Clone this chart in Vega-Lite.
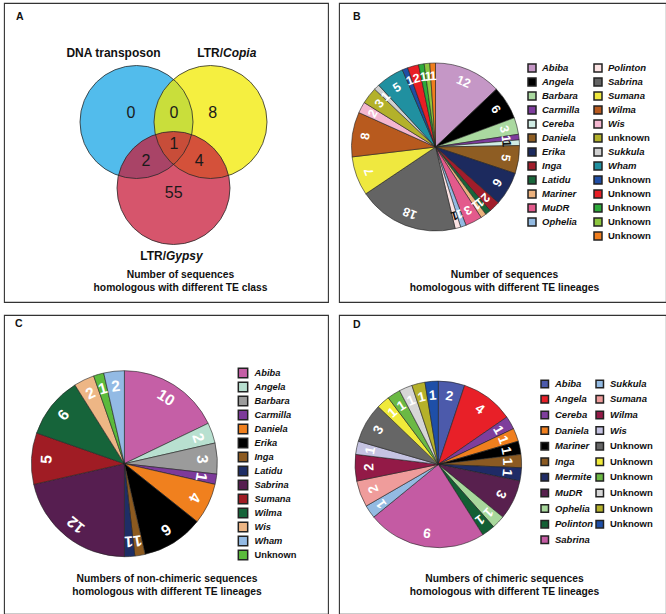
{
  "$schema": "https://vega.github.io/schema/vega-lite/v6.json",
  "background": "white",
  "padding": {"left": 3, "top": 2, "right": 0, "bottom": 0},
  "columns": 2,
  "spacing": {"row": 11, "column": 9},
  "align": "each",
  "datasets": {
    "venn": [
      {"region": "DNA transposon only", "n": 0},
      {"region": "DNA transposon & LTR/Copia", "n": 0},
      {"region": "LTR/Copia only", "n": 8},
      {"region": "all three", "n": 1},
      {"region": "DNA transposon & LTR/Gypsy", "n": 2},
      {"region": "LTR/Copia & LTR/Gypsy", "n": 4},
      {"region": "LTR/Gypsy only", "n": 55}
    ],
    "sets": [
      {"set": "DNA transposon", "cls": "DNA transposon", "sub": ""},
      {"set": "LTR/Copia", "cls": "LTR/", "sub": "Copia"},
      {"set": "LTR/Gypsy", "cls": "LTR/", "sub": "Gypsy"}
    ],
    "panels": [
      {"panel": "A", "caption": "Number of sequences\nhomologous with different TE class"},
      {"panel": "B", "caption": "Number of sequences\nhomologous with different TE lineages"},
      {"panel": "C", "caption": "Numbers of non-chimeric sequences\nhomologous with different TE lineages"},
      {"panel": "D", "caption": "Numbers of chimeric sequences\nhomologous with different TE lineages"}
    ],
    "pieB": [
      {"i": 1, "key": "Abiba", "n": 12}, {"i": 2, "key": "Angela", "n": 6}, {"i": 3, "key": "Barbara", "n": 3},
      {"i": 4, "key": "Carmilla", "n": 1}, {"i": 5, "key": "Cereba", "n": 1}, {"i": 6, "key": "Daniela", "n": 5},
      {"i": 7, "key": "Erika", "n": 6}, {"i": 8, "key": "Inga", "n": 2}, {"i": 9, "key": "Latidu", "n": 1},
      {"i": 10, "key": "Mariner", "n": 1}, {"i": 11, "key": "MuDR", "n": 3}, {"i": 12, "key": "Ophelia", "n": 1},
      {"i": 13, "key": "Polinton", "n": 1}, {"i": 14, "key": "Sabrina", "n": 18}, {"i": 15, "key": "Sumana", "n": 7},
      {"i": 16, "key": "Wilma", "n": 8}, {"i": 17, "key": "Wis", "n": 2}, {"i": 18, "key": "unknown", "n": 3},
      {"i": 19, "key": "Sukkula", "n": 1}, {"i": 20, "key": "Wham", "n": 5}, {"i": 21, "key": "Unknown#1", "n": 1},
      {"i": 22, "key": "Unknown#2", "n": 2}, {"i": 23, "key": "Unknown#3", "n": 1}, {"i": 24, "key": "Unknown#4", "n": 1},
      {"i": 25, "key": "Unknown#5", "n": 1}
    ],
    "pieC": [
      {"i": 1, "key": "Abiba", "n": 10}, {"i": 2, "key": "Angela", "n": 2}, {"i": 3, "key": "Barbara", "n": 3},
      {"i": 4, "key": "Carmilla", "n": 1}, {"i": 5, "key": "Daniela", "n": 4}, {"i": 6, "key": "Erika", "n": 6},
      {"i": 7, "key": "Inga", "n": 1}, {"i": 8, "key": "Latidu", "n": 1}, {"i": 9, "key": "Sabrina", "n": 12},
      {"i": 10, "key": "Sumana", "n": 5}, {"i": 11, "key": "Wilma", "n": 6}, {"i": 12, "key": "Wis", "n": 2},
      {"i": 13, "key": "Unknown", "n": 1}, {"i": 14, "key": "Wham", "n": 2}
    ],
    "pieD": [
      {"i": 1, "key": "Abiba", "n": 2}, {"i": 2, "key": "Angela", "n": 4}, {"i": 3, "key": "Cereba", "n": 1},
      {"i": 4, "key": "Daniela", "n": 1}, {"i": 5, "key": "Mariner", "n": 1}, {"i": 6, "key": "Inga", "n": 1},
      {"i": 7, "key": "Mermite", "n": 1}, {"i": 8, "key": "MuDR", "n": 3}, {"i": 9, "key": "Ophelia", "n": 1},
      {"i": 10, "key": "Polinton", "n": 1}, {"i": 11, "key": "Sabrina", "n": 9}, {"i": 12, "key": "Sukkula", "n": 1},
      {"i": 13, "key": "Sumana", "n": 2}, {"i": 14, "key": "Wilma", "n": 2}, {"i": 15, "key": "Wis", "n": 1},
      {"i": 16, "key": "Unknown#1", "n": 3}, {"i": 17, "key": "Unknown#2", "n": 1}, {"i": 18, "key": "Unknown#3", "n": 1},
      {"i": 19, "key": "Unknown#4", "n": 1}, {"i": 20, "key": "Unknown#5", "n": 1}, {"i": 21, "key": "Unknown#6", "n": 1}
    ]
  },
  "concat": [
    {
      "width": 324,
      "height": 299,
      "layer": [
        {"data": {"name": "sets"}, "transform": [{"filter": "datum.set == 'DNA transposon'"}],
         "mark": {"type": "circle", "size": 12769, "color": "#52BCEC", "opacity": 1, "strokeWidth": 0},
         "encoding": {
           "x": {"datum": 132.5, "type": "quantitative", "scale": {"domain": [0, 324], "nice": false, "zero": false}, "axis": null},
           "y": {"datum": 119, "type": "quantitative", "scale": {"domain": [0, 299], "nice": false, "zero": false, "reverse": true}, "axis": null}}},
        {"data": {"name": "sets"}, "transform": [{"filter": "datum.set == 'LTR/Copia'"}],
         "mark": {"type": "circle", "size": 12769, "color": "#F1E900", "opacity": 0.75, "strokeWidth": 0},
         "encoding": {
           "x": {"datum": 206.5, "type": "quantitative", "scale": {"domain": [0, 324], "nice": false, "zero": false}, "axis": null},
           "y": {"datum": 119, "type": "quantitative", "scale": {"domain": [0, 299], "nice": false, "zero": false, "reverse": true}, "axis": null}}},
        {"data": {"name": "sets"}, "transform": [{"filter": "datum.set == 'LTR/Gypsy'"}],
         "mark": {"type": "circle", "size": 12769, "color": "#C81A38", "opacity": 0.74, "strokeWidth": 0},
         "encoding": {
           "x": {"datum": 169.5, "type": "quantitative", "scale": {"domain": [0, 324], "nice": false, "zero": false}, "axis": null},
           "y": {"datum": 185, "type": "quantitative", "scale": {"domain": [0, 299], "nice": false, "zero": false, "reverse": true}, "axis": null}}},
        {"data": {"name": "sets"}, "transform": [{"filter": "datum.set == 'DNA transposon'"}],
         "mark": {"type": "point", "shape": "circle", "filled": false, "size": 12769, "color": "#2a2a2a", "stroke": "#2a2a2a", "strokeWidth": 0.8, "opacity": 1},
         "encoding": {
           "x": {"datum": 132.5, "type": "quantitative", "scale": {"domain": [0, 324], "nice": false, "zero": false}, "axis": null},
           "y": {"datum": 119, "type": "quantitative", "scale": {"domain": [0, 299], "nice": false, "zero": false, "reverse": true}, "axis": null}}},
        {"data": {"name": "sets"}, "transform": [{"filter": "datum.set == 'LTR/Copia'"}],
         "mark": {"type": "point", "shape": "circle", "filled": false, "size": 12769, "color": "#2a2a2a", "stroke": "#2a2a2a", "strokeWidth": 0.8, "opacity": 1},
         "encoding": {
           "x": {"datum": 206.5, "type": "quantitative", "scale": {"domain": [0, 324], "nice": false, "zero": false}, "axis": null},
           "y": {"datum": 119, "type": "quantitative", "scale": {"domain": [0, 299], "nice": false, "zero": false, "reverse": true}, "axis": null}}},
        {"data": {"name": "sets"}, "transform": [{"filter": "datum.set == 'LTR/Gypsy'"}],
         "mark": {"type": "point", "shape": "circle", "filled": false, "size": 12769, "color": "#2a2a2a", "stroke": "#2a2a2a", "strokeWidth": 0.8, "opacity": 1},
         "encoding": {
           "x": {"datum": 169.5, "type": "quantitative", "scale": {"domain": [0, 324], "nice": false, "zero": false}, "axis": null},
           "y": {"datum": 185, "type": "quantitative", "scale": {"domain": [0, 299], "nice": false, "zero": false, "reverse": true}, "axis": null}}},
        {"data": {"name": "sets"}, "transform": [{"filter": "datum.set == 'DNA transposon'"}],
         "mark": {"type": "text", "fontSize": 12, "fontWeight": "bold", "align": "center", "baseline": "middle", "color": "#111"},
         "encoding": {"text": {"field": "cls", "type": "nominal"},
           "x": {"datum": 109.5, "type": "quantitative", "scale": {"domain": [0, 324], "nice": false, "zero": false}, "axis": null},
           "y": {"datum": 50.3, "type": "quantitative", "scale": {"domain": [0, 299], "nice": false, "zero": false, "reverse": true}, "axis": null}}},
        {"data": {"name": "sets"}, "transform": [{"filter": "datum.set == 'LTR/Copia'"}],
         "mark": {"type": "text", "fontSize": 12, "fontWeight": "bold", "align": "right", "baseline": "middle", "color": "#111"},
         "encoding": {"text": {"field": "cls", "type": "nominal"},
           "x": {"datum": 219, "type": "quantitative", "scale": {"domain": [0, 324], "nice": false, "zero": false}, "axis": null},
           "y": {"datum": 50.3, "type": "quantitative", "scale": {"domain": [0, 299], "nice": false, "zero": false, "reverse": true}, "axis": null}}},
        {"data": {"name": "sets"}, "transform": [{"filter": "datum.set == 'LTR/Copia'"}],
         "mark": {"type": "text", "fontSize": 12, "fontWeight": "bold", "fontStyle": "italic", "align": "left", "baseline": "middle", "color": "#111"},
         "encoding": {"text": {"field": "sub", "type": "nominal"},
           "x": {"datum": 219, "type": "quantitative", "scale": {"domain": [0, 324], "nice": false, "zero": false}, "axis": null},
           "y": {"datum": 50.3, "type": "quantitative", "scale": {"domain": [0, 299], "nice": false, "zero": false, "reverse": true}, "axis": null}}},
        {"data": {"name": "sets"}, "transform": [{"filter": "datum.set == 'LTR/Gypsy'"}],
         "mark": {"type": "text", "fontSize": 12, "fontWeight": "bold", "align": "right", "baseline": "middle", "color": "#111"},
         "encoding": {"text": {"field": "cls", "type": "nominal"},
           "x": {"datum": 162, "type": "quantitative", "scale": {"domain": [0, 324], "nice": false, "zero": false}, "axis": null},
           "y": {"datum": 253, "type": "quantitative", "scale": {"domain": [0, 299], "nice": false, "zero": false, "reverse": true}, "axis": null}}},
        {"data": {"name": "sets"}, "transform": [{"filter": "datum.set == 'LTR/Gypsy'"}],
         "mark": {"type": "text", "fontSize": 12, "fontWeight": "bold", "fontStyle": "italic", "align": "left", "baseline": "middle", "color": "#111"},
         "encoding": {"text": {"field": "sub", "type": "nominal"},
           "x": {"datum": 162, "type": "quantitative", "scale": {"domain": [0, 324], "nice": false, "zero": false}, "axis": null},
           "y": {"datum": 253, "type": "quantitative", "scale": {"domain": [0, 299], "nice": false, "zero": false, "reverse": true}, "axis": null}}},
        {"data": {"name": "venn"}, "transform": [{"filter": "datum.region == 'DNA transposon only'"}],
         "mark": {"type": "text", "fontSize": 16, "align": "center", "baseline": "middle", "color": "#1a1a1a"},
         "encoding": {"text": {"field": "n", "type": "quantitative"},
           "x": {"datum": 127, "type": "quantitative", "scale": {"domain": [0, 324], "nice": false, "zero": false}, "axis": null},
           "y": {"datum": 109.7, "type": "quantitative", "scale": {"domain": [0, 299], "nice": false, "zero": false, "reverse": true}, "axis": null}}},
        {"data": {"name": "venn"}, "transform": [{"filter": "datum.region == 'DNA transposon & LTR/Copia'"}],
         "mark": {"type": "text", "fontSize": 16, "align": "center", "baseline": "middle", "color": "#1a1a1a"},
         "encoding": {"text": {"field": "n", "type": "quantitative"},
           "x": {"datum": 170, "type": "quantitative", "scale": {"domain": [0, 324], "nice": false, "zero": false}, "axis": null},
           "y": {"datum": 109.7, "type": "quantitative", "scale": {"domain": [0, 299], "nice": false, "zero": false, "reverse": true}, "axis": null}}},
        {"data": {"name": "venn"}, "transform": [{"filter": "datum.region == 'LTR/Copia only'"}],
         "mark": {"type": "text", "fontSize": 16, "align": "center", "baseline": "middle", "color": "#1a1a1a"},
         "encoding": {"text": {"field": "n", "type": "quantitative"},
           "x": {"datum": 208.7, "type": "quantitative", "scale": {"domain": [0, 324], "nice": false, "zero": false}, "axis": null},
           "y": {"datum": 109.7, "type": "quantitative", "scale": {"domain": [0, 299], "nice": false, "zero": false, "reverse": true}, "axis": null}}},
        {"data": {"name": "venn"}, "transform": [{"filter": "datum.region == 'all three'"}],
         "mark": {"type": "text", "fontSize": 16, "align": "center", "baseline": "middle", "color": "#1a1a1a"},
         "encoding": {"text": {"field": "n", "type": "quantitative"},
           "x": {"datum": 170, "type": "quantitative", "scale": {"domain": [0, 324], "nice": false, "zero": false}, "axis": null},
           "y": {"datum": 141.3, "type": "quantitative", "scale": {"domain": [0, 299], "nice": false, "zero": false, "reverse": true}, "axis": null}}},
        {"data": {"name": "venn"}, "transform": [{"filter": "datum.region == 'DNA transposon & LTR/Gypsy'"}],
         "mark": {"type": "text", "fontSize": 16, "align": "center", "baseline": "middle", "color": "#1a1a1a"},
         "encoding": {"text": {"field": "n", "type": "quantitative"},
           "x": {"datum": 142, "type": "quantitative", "scale": {"domain": [0, 324], "nice": false, "zero": false}, "axis": null},
           "y": {"datum": 158, "type": "quantitative", "scale": {"domain": [0, 299], "nice": false, "zero": false, "reverse": true}, "axis": null}}},
        {"data": {"name": "venn"}, "transform": [{"filter": "datum.region == 'LTR/Copia & LTR/Gypsy'"}],
         "mark": {"type": "text", "fontSize": 16, "align": "center", "baseline": "middle", "color": "#1a1a1a"},
         "encoding": {"text": {"field": "n", "type": "quantitative"},
           "x": {"datum": 195.3, "type": "quantitative", "scale": {"domain": [0, 324], "nice": false, "zero": false}, "axis": null},
           "y": {"datum": 158, "type": "quantitative", "scale": {"domain": [0, 299], "nice": false, "zero": false, "reverse": true}, "axis": null}}},
        {"data": {"name": "venn"}, "transform": [{"filter": "datum.region == 'LTR/Gypsy only'"}],
         "mark": {"type": "text", "fontSize": 16, "align": "center", "baseline": "middle", "color": "#1a1a1a"},
         "encoding": {"text": {"field": "n", "type": "quantitative"},
           "x": {"datum": 169.7, "type": "quantitative", "scale": {"domain": [0, 324], "nice": false, "zero": false}, "axis": null},
           "y": {"datum": 189.7, "type": "quantitative", "scale": {"domain": [0, 299], "nice": false, "zero": false, "reverse": true}, "axis": null}}},
        {"data": {"name": "panels"}, "transform": [{"filter": "datum.panel == 'A'"}],
         "mark": {"type": "text", "fontSize": 10.5, "fontWeight": "bold", "align": "left", "baseline": "middle", "color": "#111"},
         "encoding": {"text": {"field": "panel", "type": "nominal"},
           "x": {"datum": 12, "type": "quantitative", "scale": {"domain": [0, 324], "nice": false, "zero": false}, "axis": null},
           "y": {"datum": 14, "type": "quantitative", "scale": {"domain": [0, 299], "nice": false, "zero": false, "reverse": true}, "axis": null}}},
        {"data": {"name": "panels"}, "transform": [{"filter": "datum.panel == 'A'"}],
         "mark": {"type": "text", "fontSize": 10.3, "fontWeight": "bold", "align": "center", "baseline": "alphabetic", "lineBreak": "\n", "lineHeight": 13.2, "color": "#111"},
         "encoding": {"text": {"field": "caption", "type": "nominal"},
           "x": {"datum": 176.5, "type": "quantitative", "scale": {"domain": [0, 324], "nice": false, "zero": false}, "axis": null},
           "y": {"datum": 274.7, "type": "quantitative", "scale": {"domain": [0, 299], "nice": false, "zero": false, "reverse": true}, "axis": null}}}
      ]
    },
    {
      "width": 327,
      "height": 299,
      "data": {"name": "pieB"},
      "layer": [
        {"mark": {"type": "arc", "outerRadius": 84, "stroke": "#222", "strokeWidth": 0.6},
         "encoding": {
           "theta": {"field": "n", "type": "quantitative", "stack": true},
           "order": {"field": "i", "type": "quantitative"},
           "color": {"field": "key", "type": "nominal",
             "scale": {
               "domain": ["Abiba","Angela","Barbara","Carmilla","Cereba","Daniela","Erika","Inga","Latidu","Mariner","MuDR","Ophelia","#","Polinton","Sabrina","Sumana","Wilma","Wis","unknown","Sukkula","Wham","Unknown#1","Unknown#2","Unknown#3","Unknown#4","Unknown#5"],
               "range": ["#C597C6","#000000","#AAD9A0","#7E3C9D","#D0ECE4","#8E5D23","#1C2A5E","#A11D2B","#18663A","#ECB27E","#E35A8C","#93BAE2","#FFFFFF","#FBE3E3","#646464","#EFE83F","#B85A1E","#F4B7D0","#B3B12A","#D0D0D0","#2090A0","#1F4EA5","#E81E25","#2DAA3A","#8CC63F","#F07E1E"]},
             "legend": {"title": null, "orient": "none", "legendX": 188, "legendY": 60, "columns": 2, "gridAlign": "each",
               "symbolType": "square", "symbolSize": 64, "labelFont": "Liberation Sans", "labelFontSize": 9.5, "labelFontWeight": "bold",
               "labelColor": "#111", "labelOffset": 5, "rowPadding": 0, "columnPadding": 11, "padding": 0,
               "labelExpr": "split(datum.label, '#')[0]",
               "labelFontStyle": {"expr": "indexof(lower(datum.value), 'unknown') == 0 ? 'normal' : 'italic'"},
               "symbolOpacity": {"expr": "datum.value == '#' ? 0 : 1"}}},
           "x": {"datum": 96.5, "type": "quantitative", "scale": {"domain": [0, 327], "nice": false, "zero": false}, "axis": null},
           "y": {"datum": 144, "type": "quantitative", "scale": {"domain": [0, 299], "nice": false, "zero": false, "reverse": true}, "axis": null}}},
        {"transform": [{"joinaggregate": [{"op": "sum", "field": "n", "as": "total"}]}],
         "mark": {"type": "text", "radius": 71, "fontSize": 12.5, "fontWeight": "bold", "align": "center", "baseline": "middle",
           "angle": {"expr": "(datum.n_start + datum.n_end) * 180 / datum.total"}},
         "encoding": {
           "theta": {"field": "n", "type": "quantitative", "stack": true},
           "order": {"field": "i", "type": "quantitative"},
           "text": {"field": "n", "type": "quantitative"},
           "color": {"condition": {"test": "indexof(['Cereba','Polinton'], datum.key) >= 0", "value": "#111111"}, "value": "#ffffff"},
           "x": {"datum": 96.5, "type": "quantitative", "scale": {"domain": [0, 327], "nice": false, "zero": false}, "axis": null},
           "y": {"datum": 144, "type": "quantitative", "scale": {"domain": [0, 299], "nice": false, "zero": false, "reverse": true}, "axis": null}}},
        {"data": {"name": "panels"}, "transform": [{"filter": "datum.panel == 'B'"}],
         "mark": {"type": "text", "fontSize": 10.5, "fontWeight": "bold", "align": "left", "baseline": "middle", "color": "#111"},
         "encoding": {"text": {"field": "panel", "type": "nominal"},
           "x": {"datum": 14, "type": "quantitative", "scale": {"domain": [0, 327], "nice": false, "zero": false}, "axis": null},
           "y": {"datum": 14, "type": "quantitative", "scale": {"domain": [0, 299], "nice": false, "zero": false, "reverse": true}, "axis": null}}},
        {"data": {"name": "panels"}, "transform": [{"filter": "datum.panel == 'B'"}],
         "mark": {"type": "text", "fontSize": 10.3, "fontWeight": "bold", "align": "center", "baseline": "alphabetic", "lineBreak": "\n", "lineHeight": 13.2, "color": "#111"},
         "encoding": {"text": {"field": "caption", "type": "nominal"},
           "x": {"datum": 165.5, "type": "quantitative", "scale": {"domain": [0, 327], "nice": false, "zero": false}, "axis": null},
           "y": {"datum": 275, "type": "quantitative", "scale": {"domain": [0, 299], "nice": false, "zero": false, "reverse": true}, "axis": null}}}
      ]
    },
    {
      "width": 324,
      "height": 299,
      "data": {"name": "pieC"},
      "layer": [
        {"mark": {"type": "arc", "outerRadius": 93, "stroke": "#222", "strokeWidth": 0.6},
         "encoding": {
           "theta": {"field": "n", "type": "quantitative", "stack": true},
           "order": {"field": "i", "type": "quantitative"},
           "color": {"field": "key", "type": "nominal",
             "scale": {
               "domain": ["Abiba","Angela","Barbara","Carmilla","Daniela","Erika","Inga","Latidu","Sabrina","Sumana","Wilma","Wis","Wham","Unknown"],
               "range": ["#C55FA6","#B8E0D0","#9B9B9B","#7D3A9A","#F0801E","#000000","#8C5A20","#1E2E66","#561E50","#A01C24","#16643A","#EDB685","#93BAE4","#5BBA3C"]},
             "legend": {"title": null, "orient": "none", "legendX": 233.5, "legendY": 52.5, "columns": 1,
               "symbolType": "square", "symbolSize": 88, "labelFont": "Liberation Sans", "labelFontSize": 9.3, "labelFontWeight": "bold",
               "labelColor": "#111", "labelOffset": 6, "rowPadding": -3.6, "padding": 0,
               "labelFontStyle": {"expr": "indexof(lower(datum.value), 'unknown') == 0 ? 'normal' : 'italic'"}}},
           "x": {"datum": 120.4, "type": "quantitative", "scale": {"domain": [0, 324], "nice": false, "zero": false}, "axis": null},
           "y": {"datum": 148.7, "type": "quantitative", "scale": {"domain": [0, 299], "nice": false, "zero": false, "reverse": true}, "axis": null}}},
        {"transform": [{"joinaggregate": [{"op": "sum", "field": "n", "as": "total"}]}],
         "mark": {"type": "text", "radius": 78, "fontSize": 15.5, "fontWeight": "bold", "align": "center", "baseline": "middle", "color": "#ffffff",
           "angle": {"expr": "(datum.n_start + datum.n_end) * 180 / datum.total"}},
         "encoding": {
           "theta": {"field": "n", "type": "quantitative", "stack": true},
           "order": {"field": "i", "type": "quantitative"},
           "text": {"field": "n", "type": "quantitative"},
           "x": {"datum": 120.4, "type": "quantitative", "scale": {"domain": [0, 324], "nice": false, "zero": false}, "axis": null},
           "y": {"datum": 148.7, "type": "quantitative", "scale": {"domain": [0, 299], "nice": false, "zero": false, "reverse": true}, "axis": null}}},
        {"data": {"name": "panels"}, "transform": [{"filter": "datum.panel == 'C'"}],
         "mark": {"type": "text", "fontSize": 10.5, "fontWeight": "bold", "align": "left", "baseline": "middle", "color": "#111"},
         "encoding": {"text": {"field": "panel", "type": "nominal"},
           "x": {"datum": 11, "type": "quantitative", "scale": {"domain": [0, 324], "nice": false, "zero": false}, "axis": null},
           "y": {"datum": 9, "type": "quantitative", "scale": {"domain": [0, 299], "nice": false, "zero": false, "reverse": true}, "axis": null}}},
        {"data": {"name": "panels"}, "transform": [{"filter": "datum.panel == 'C'"}],
         "mark": {"type": "text", "fontSize": 10.3, "fontWeight": "bold", "align": "center", "baseline": "alphabetic", "lineBreak": "\n", "lineHeight": 13.2, "color": "#111"},
         "encoding": {"text": {"field": "caption", "type": "nominal"},
           "x": {"datum": 163, "type": "quantitative", "scale": {"domain": [0, 324], "nice": false, "zero": false}, "axis": null},
           "y": {"datum": 267.2, "type": "quantitative", "scale": {"domain": [0, 299], "nice": false, "zero": false, "reverse": true}, "axis": null}}}
      ]
    },
    {
      "width": 327,
      "height": 299,
      "data": {"name": "pieD"},
      "layer": [
        {"mark": {"type": "arc", "outerRadius": 83.3, "stroke": "#222", "strokeWidth": 0.6},
         "encoding": {
           "theta": {"field": "n", "type": "quantitative", "stack": true},
           "order": {"field": "i", "type": "quantitative"},
           "color": {"field": "key", "type": "nominal",
             "scale": {
               "domain": ["Abiba","Angela","Cereba","Daniela","Mariner","Inga","Mermite","MuDR","Ophelia","Polinton","Sabrina","Sukkula","Sumana","Wilma","Wis","Unknown#1","Unknown#2","Unknown#3","Unknown#4","Unknown#5","Unknown#6"],
               "range": ["#4C5AAB","#E82028","#7E3E9C","#F07F1E","#000000","#8B5A22","#1F2B66","#58204E","#A8D89C","#135F34","#C45BA3","#93BAE2","#EF9C9B","#931A47","#C5C3E2","#666666","#F0EA3A","#6BB944","#D6D6D6","#B5B12A","#1E4FA8"]},
             "legend": {"title": null, "orient": "none", "legendX": 201, "legendY": 64, "columns": 2, "gridAlign": "each",
               "symbolType": "square", "symbolSize": 56, "labelFont": "Liberation Sans", "labelFontSize": 9.5, "labelFontWeight": "bold",
               "labelColor": "#111", "labelOffset": 5.5, "rowPadding": 1.6, "columnPadding": 0, "padding": 0,
               "labelExpr": "split(datum.label, '#')[0]",
               "labelFontStyle": {"expr": "indexof(lower(datum.value), 'unknown') == 0 ? 'normal' : 'italic'"}}},
           "x": {"datum": 99.3, "type": "quantitative", "scale": {"domain": [0, 327], "nice": false, "zero": false}, "axis": null},
           "y": {"datum": 149.4, "type": "quantitative", "scale": {"domain": [0, 299], "nice": false, "zero": false, "reverse": true}, "axis": null}}},
        {"transform": [{"joinaggregate": [{"op": "sum", "field": "n", "as": "total"}]}],
         "mark": {"type": "text", "radius": 69, "fontSize": 13.5, "fontWeight": "bold", "align": "center", "baseline": "middle", "color": "#ffffff",
           "angle": {"expr": "(datum.n_start + datum.n_end) * 180 / datum.total"}},
         "encoding": {
           "theta": {"field": "n", "type": "quantitative", "stack": true},
           "order": {"field": "i", "type": "quantitative"},
           "text": {"field": "n", "type": "quantitative"},
           "x": {"datum": 99.3, "type": "quantitative", "scale": {"domain": [0, 327], "nice": false, "zero": false}, "axis": null},
           "y": {"datum": 149.4, "type": "quantitative", "scale": {"domain": [0, 299], "nice": false, "zero": false, "reverse": true}, "axis": null}}},
        {"data": {"name": "panels"}, "transform": [{"filter": "datum.panel == 'D'"}],
         "mark": {"type": "text", "fontSize": 10.5, "fontWeight": "bold", "align": "left", "baseline": "middle", "color": "#111"},
         "encoding": {"text": {"field": "panel", "type": "nominal"},
           "x": {"datum": 14, "type": "quantitative", "scale": {"domain": [0, 327], "nice": false, "zero": false}, "axis": null},
           "y": {"datum": 9.5, "type": "quantitative", "scale": {"domain": [0, 299], "nice": false, "zero": false, "reverse": true}, "axis": null}}},
        {"data": {"name": "panels"}, "transform": [{"filter": "datum.panel == 'D'"}],
         "mark": {"type": "text", "fontSize": 10.3, "fontWeight": "bold", "align": "center", "baseline": "alphabetic", "lineBreak": "\n", "lineHeight": 13.2, "color": "#111"},
         "encoding": {"text": {"field": "caption", "type": "nominal"},
           "x": {"datum": 165.5, "type": "quantitative", "scale": {"domain": [0, 327], "nice": false, "zero": false}, "axis": null},
           "y": {"datum": 267.2, "type": "quantitative", "scale": {"domain": [0, 299], "nice": false, "zero": false, "reverse": true}, "axis": null}}}
      ]
    }
  ],
  "resolve": {
    "scale": {"color": "independent", "theta": "independent", "x": "independent", "y": "independent"},
    "legend": {"color": "independent"}
  },
  "config": {
    "font": "Liberation Sans",
    "view": {"stroke": "#333333", "strokeWidth": 1.1}
  }
}
